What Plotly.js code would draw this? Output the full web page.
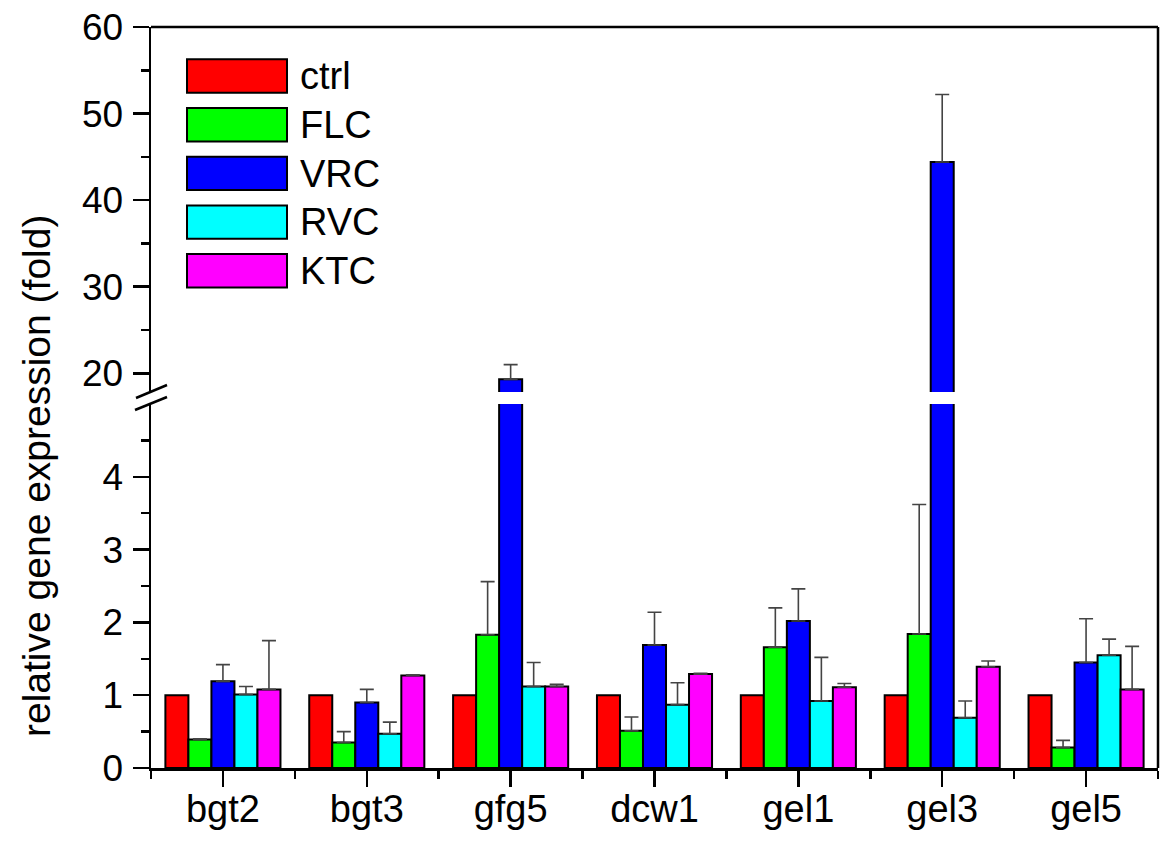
<!DOCTYPE html>
<html>
<head>
<meta charset="utf-8">
<script src="https://cdn.plot.ly/plotly-3.0.1.min.js"></script>
<style>
  body { margin: 0; background: #fff; }
  #plot { width: 1168px; height: 842px; }
</style>
</head>
<body>
<div id="plot"></div>
<script>
// genes on the x axis
const categories = ['bgt2', 'bgt3', 'gfg5', 'dcw1', 'gel1', 'gel3', 'gel5'];

const seriesNames = ['ctrl', 'FLC', 'VRC', 'RVC', 'KTC'];
const seriesColors = ['#ff0000', '#00ff00', '#0000ff', '#00ffff', '#ff00ff'];

// relative expression (fold)
const ctrlValues = [1, 1, 1, 1, 1, 1, 1];
const flcValues = [0.39, 0.35, 1.83, 0.51, 1.66, 1.84, 0.28];
const vrcValues = [1.19, 0.90, 19.3, 1.69, 2.02, 44.4, 1.45];
const rvcValues = [1.01, 0.47, 1.12, 0.87, 0.92, 0.69, 1.55];
const ktcValues = [1.08, 1.27, 1.12, 1.29, 1.11, 1.39, 1.08];

// upper error bars only
const ctrlErrors = [0, 0, 0, 0, 0, 0, 0];
const flcErrors = [0.01, 0.15, 0.73, 0.19, 0.54, 1.78, 0.10];
const vrcErrors = [0.23, 0.18, 1.7, 0.45, 0.44, 7.8, 0.60];
const rvcErrors = [0.11, 0.16, 0.33, 0.30, 0.60, 0.23, 0.22];
const ktcErrors = [0.67, 0.01, 0.03, 0.01, 0.05, 0.08, 0.59];

const lowerTicks = [0, 1, 2, 3, 4];
const lowerMinor = [0.5, 1.5, 2.5, 3.5, 4.5];
const upperTicks = [20, 30, 40, 50, 60];
const upperMinor = [25, 35, 45, 55];

const seriesValues = [ctrlValues, flcValues, vrcValues, rvcValues, ktcValues];
const seriesErrors = [ctrlErrors, flcErrors, vrcErrors, rvcErrors, ktcErrors];

const FONT = '"Liberation Sans", Arial, sans-serif';

// plot frame in pixels, used to place the decorations
const plotL = 151, plotR = 1158, plotT = 27, plotB = 768;
const px2x = p => (p - plotL) / (plotR - plotL);
const px2y = p => (plotB - p) / (plotB - plotT);

const xIdx = categories.map((c, i) => i);

let data = [];
['y', 'y2'].forEach(ax => {
  seriesNames.forEach((name, s) => {
    data.push({
      type: 'bar',
      name: name,
      x: xIdx,
      y: seriesValues[s],
      yaxis: ax,
      marker: { color: seriesColors[s], line: { color: '#000', width: 2 } },
      error_y: {
        type: 'data',
        symmetric: false,
        array: seriesErrors[s],
        arrayminus: seriesErrors[s].map(() => 0),
        visible: s > 0,
        color: '#444',
        thickness: 1.6,
        width: 7
      },
      showlegend: false,
      hoverinfo: 'skip'
    });
  });
});

const axisCommon = {
  showline: true,
  linecolor: '#000',
  linewidth: 2.5,
  ticks: 'outside',
  ticklen: 16,
  tickwidth: 2.5,
  tickcolor: '#000',
  showgrid: false,
  zeroline: false,
  tickfont: { family: FONT, size: 37, color: '#000' },
  fixedrange: true
};

// hand-made legend with wide boxes
let shapes = [];
let annotations = [];
seriesNames.forEach((name, s) => {
  const top = 59.3 + s * 48.7;
  shapes.push({
    type: 'rect', xref: 'paper', yref: 'paper',
    x0: px2x(187), x1: px2x(287), y0: px2y(top + 33.4), y1: px2y(top),
    fillcolor: seriesColors[s], line: { color: '#000', width: 2 }
  });
  annotations.push({
    xref: 'paper', yref: 'paper', x: px2x(298), y: px2y(top + 17),
    xanchor: 'left', yanchor: 'middle', showarrow: false,
    text: name, font: { family: FONT, size: 38, color: '#000' }
  });
});

// top and right frame lines
shapes.push({ type: 'line', xref: 'paper', yref: 'paper', x0: 0, x1: 1, y0: 1, y1: 1,
  line: { color: '#000', width: 2.5 } });
shapes.push({ type: 'line', xref: 'paper', yref: 'paper', x0: 1, x1: 1, y0: 0, y1: 1,
  line: { color: '#000', width: 2.5 } });

// axis break marks
shapes.push({ type: 'line', xref: 'paper', yref: 'paper',
  x0: px2x(136), y0: px2y(398), x1: px2x(167), y1: px2y(385), line: { color: '#000', width: 2.5 } });
shapes.push({ type: 'line', xref: 'paper', yref: 'paper',
  x0: px2x(135), y0: px2y(410), x1: px2x(167), y1: px2y(397), line: { color: '#000', width: 2.5 } });

annotations.push({
  xref: 'paper', yref: 'paper', x: px2x(36), y: px2y(476),
  xanchor: 'center', yanchor: 'middle', textangle: -90, showarrow: false,
  text: 'relative gene expression (fold)',
  font: { family: FONT, size: 39, color: '#000' }
});

let layout = {
  width: 1168,
  height: 842,
  margin: { l: plotL, r: 1168 - plotR, t: plotT, b: 842 - plotB },
  paper_bgcolor: '#fff',
  plot_bgcolor: '#fff',
  showlegend: false,
  barmode: 'group',
  bargap: 0.2,
  bargroupgap: 0,
  font: { family: FONT, color: '#000' },
  xaxis: Object.assign({}, axisCommon, {
    range: [-0.5, 6.5],
    tickmode: 'array',
    tickvals: xIdx,
    ticktext: categories,
    tickfont: { family: FONT, size: 38, color: '#000' },
    ticklabelstandoff: -10,
    minor: {
      tickmode: 'array',
      tickvals: xIdx.concat([xIdx.length]).map(i => i - 0.5),
      ticks: 'outside', ticklen: 8, tickwidth: 2.5, tickcolor: '#000', showgrid: false
    },
    anchor: 'y'
  }),
  yaxis: Object.assign({}, axisCommon, {
    domain: [0, px2y(404)],
    range: [0, 5],
    tickmode: 'array',
    tickvals: lowerTicks,
    ticklabelstandoff: 2,
    minor: {
      tickmode: 'array', tickvals: lowerMinor,
      ticks: 'outside', ticklen: 8, tickwidth: 2.5, tickcolor: '#000', showgrid: false
    },
    anchor: 'x'
  }),
  yaxis2: Object.assign({}, axisCommon, {
    domain: [px2y(392), 1],
    range: [17.84, 60.001],
    tickmode: 'array',
    tickvals: upperTicks,
    ticklabelstandoff: 2,
    minor: {
      tickmode: 'array', tickvals: upperMinor,
      ticks: 'outside', ticklen: 8, tickwidth: 2.5, tickcolor: '#000', showgrid: false
    },
    anchor: 'x'
  }),
  shapes: shapes,
  annotations: annotations
};

Plotly.newPlot('plot', data, layout, { staticPlot: true });
</script>
</body>
</html>
